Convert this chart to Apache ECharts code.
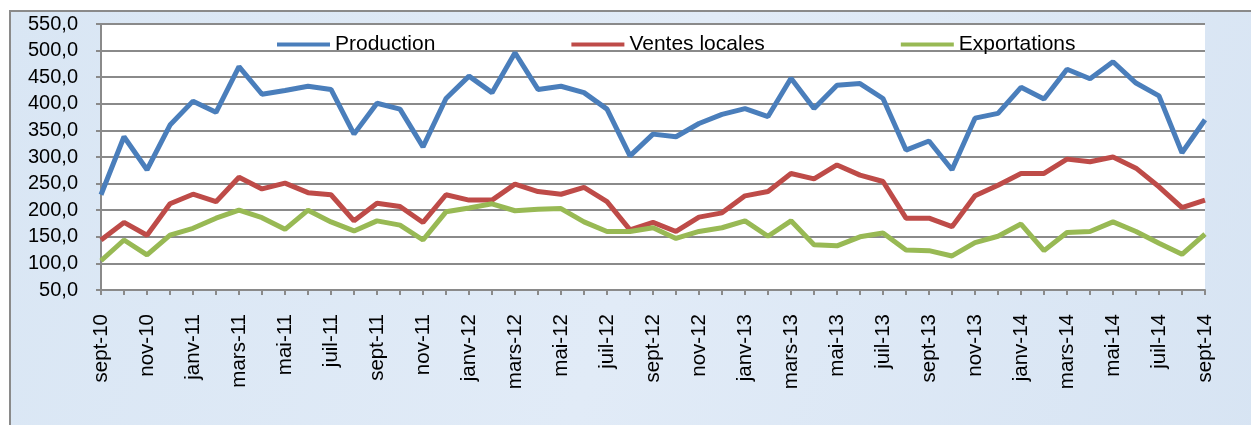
<!DOCTYPE html>
<html>
<head>
<meta charset="utf-8">
<script src="https://cdn.jsdelivr.net/npm/echarts@6/dist/echarts.min.js"></script>
<style>
  html, body { margin: 0; padding: 0; background: #fff; }
  #chart { width: 1251px; height: 425px; }
</style>
</head>
<body>
<div id="chart"></div>
<script>
// Monthly categories sept-10 .. sept-14
var months = ['sept-10', 'oct-10', 'nov-10', 'déc-10',
  'janv-11', 'févr-11', 'mars-11', 'avr-11', 'mai-11', 'juin-11', 'juil-11', 'août-11', 'sept-11', 'oct-11', 'nov-11', 'déc-11',
  'janv-12', 'févr-12', 'mars-12', 'avr-12', 'mai-12', 'juin-12', 'juil-12', 'août-12', 'sept-12', 'oct-12', 'nov-12', 'déc-12',
  'janv-13', 'févr-13', 'mars-13', 'avr-13', 'mai-13', 'juin-13', 'juil-13', 'août-13', 'sept-13', 'oct-13', 'nov-13', 'déc-13',
  'janv-14', 'févr-14', 'mars-14', 'avr-14', 'mai-14', 'juin-14', 'juil-14', 'août-14', 'sept-14'];

var production = [229, 338, 276, 360, 405, 384, 470, 418, 425, 433, 427, 343, 401, 390,
  319, 410, 452, 421, 496, 427, 433, 421, 390, 302, 343, 338, 363, 380, 391, 376, 448, 391,
  435, 438, 410, 313, 330, 276, 373, 382, 431, 409, 465, 447, 479, 439, 415, 308, 370];

var ventesLocales = [144, 177, 153, 212, 230, 216, 262, 240, 251, 233, 229, 180, 213, 207,
  177, 229, 219, 219, 249, 235, 230, 243, 216, 163, 177, 160, 187, 195, 227, 235, 269, 259,
  285, 266, 254, 185, 185, 169, 227, 247, 269, 269, 296, 291, 300, 279, 244, 205, 219];

var exportations = [105, 144, 116, 153, 166, 185, 200, 186, 164, 200, 178, 161, 180, 172,
  144, 197, 204, 212, 199, 202, 203, 178, 160, 160, 167, 147, 160, 167, 180, 151, 180, 135,
  133, 150, 157, 125, 124, 114, 139, 151, 174, 124, 158, 160, 178, 160, 138, 117, 155];

var font = "'Liberation Sans', Arial, sans-serif";
var gridGrey = '#8a8a8a';

var myChart = echarts.init(document.getElementById('chart'));

function lineSeries(name, data, color) {
  return {
    name: name,
    type: 'line',
    data: data,
    symbol: 'none',
    lineStyle: { color: color, width: 5 },
    itemStyle: { color: color }
  };
}

var option = {
  animation: false,
  textStyle: { fontFamily: font },
  graphic: [
    {
      type: 'rect',
      z: -10,
      shape: { x: 10, y: 11, width: 1260, height: 440 },
      style: {
        fill: new echarts.graphic.LinearGradient(0, 0, 1, 1, [
          { offset: 0, color: '#d9e6f4' },
          { offset: 0.5, color: '#e1ebf7' },
          { offset: 1, color: '#d7e4f3' }
        ]),
        stroke: '#8a8a8a',
        lineWidth: 2
      }
    }
  ],
  legend: {
    data: ['Production', 'Ventes locales', 'Exportations'],
    left: 272,
    top: 29,
    icon: 'rect',
    itemWidth: 53,
    itemHeight: 4,
    itemGap: 136,
    textStyle: { fontFamily: font, fontSize: 21, color: '#000' }
  },
  grid: {
    left: 101,
    right: 46,
    top: 24,
    bottom: 135,
    show: true,
    backgroundColor: '#fff',
    borderWidth: 0
  },
  xAxis: {
    type: 'category',
    data: months,
    boundaryGap: false,
    axisLine: { lineStyle: { color: gridGrey, width: 2 } },
    axisTick: { interval: 0, length: 5, lineStyle: { color: gridGrey, width: 2 } },
    axisLabel: {
      interval: 1,
      rotate: 90,
      margin: 24,
      fontFamily: font,
      fontSize: 20.5,
      color: '#000'
    }
  },
  yAxis: {
    type: 'value',
    min: 50,
    max: 550,
    interval: 50,
    axisLine: { show: true, lineStyle: { color: gridGrey, width: 2 } },
    axisTick: { show: true, length: 5, lineStyle: { color: gridGrey, width: 2 } },
    splitLine: { lineStyle: { color: gridGrey, width: 2 } },
    axisLabel: {
      margin: 23,
      fontFamily: font,
      fontSize: 20,
      color: '#000',
      formatter: function (v) { return v.toFixed(1).replace('.', ','); }
    }
  },
  series: [
    lineSeries('Production', production, '#4a7ebb'),
    lineSeries('Ventes locales', ventesLocales, '#be4b48'),
    lineSeries('Exportations', exportations, '#98b954')
  ]
};

myChart.setOption(option);
</script>
</body>
</html>
